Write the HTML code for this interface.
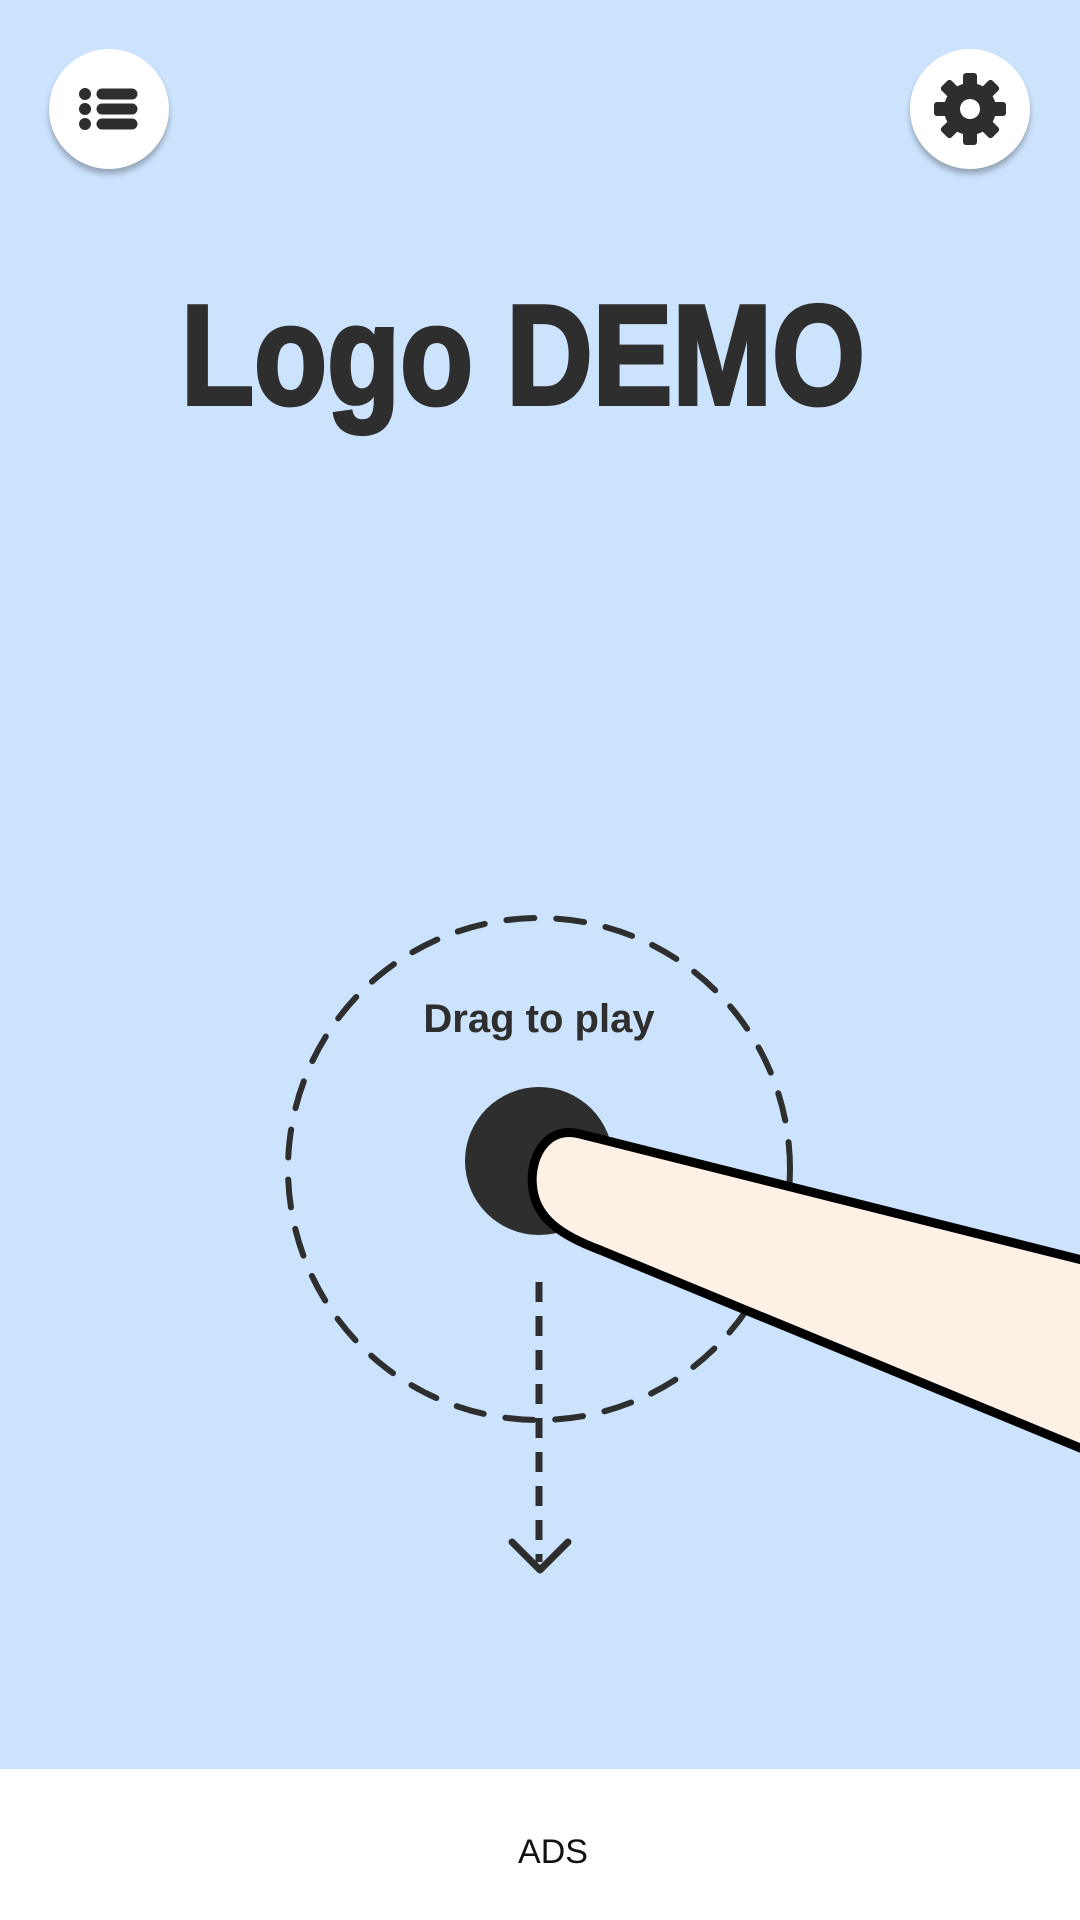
<!DOCTYPE html>
<html><head><meta charset="utf-8"><style>
html,body{margin:0;padding:0;width:1080px;height:1920px;overflow:hidden;background:#cce3fd;font-family:"Liberation Sans",sans-serif;}
.btn{position:absolute;width:120px;height:120px;border-radius:50%;background:#fff;box-shadow:0 5px 6px rgba(0,0,0,0.28);}
#ads{position:absolute;left:0;top:1769px;width:1080px;height:151px;background:#fff;}
#ads span{position:absolute;left:0;width:1106px;text-align:center;top:64px;font-size:34px;color:#111;}
</style></head><body>
<div class="btn" style="left:49px;top:49px;">
<svg width="120" height="120" viewBox="0 0 120 120">
<g fill="#2e2e2e"><circle cx="36" cy="45" r="6"/><circle cx="36" cy="60" r="6"/><circle cx="36" cy="75" r="6"/></g>
<g stroke="#2e2e2e" stroke-width="11" stroke-linecap="round"><line x1="53" y1="45" x2="83" y2="45"/><line x1="53" y1="60" x2="83" y2="60"/><line x1="53" y1="75" x2="83" y2="75"/></g>
</svg></div>
<div class="btn" style="left:910px;top:49px;">
<svg width="120" height="120" viewBox="0 0 120 120">
<g transform="translate(60,60)" fill="#2e2e2e">
<circle r="26"/>
<g id="t"><rect x="-7" y="-36" width="14" height="16" rx="3"/></g>
<use href="#t" transform="rotate(45)"/><use href="#t" transform="rotate(90)"/><use href="#t" transform="rotate(135)"/>
<use href="#t" transform="rotate(180)"/><use href="#t" transform="rotate(225)"/><use href="#t" transform="rotate(270)"/><use href="#t" transform="rotate(315)"/>
<circle r="10" fill="#fff"/>
</g></svg></div>
<svg width="1080" height="1920" style="position:absolute;left:0;top:0;">
<text x="181" y="404" font-size="142" font-weight="900" fill="#2e2e2e" textLength="684" lengthAdjust="spacingAndGlyphs" font-family="Liberation Sans, sans-serif" stroke="#2e2e2e" stroke-width="4">Logo DEMO</text>
<circle cx="539" cy="1169" r="251" fill="none" stroke="#2e2e2e" stroke-width="6" stroke-dasharray="28 22" stroke-linecap="round"/>
<text x="539" y="1032" font-size="40" font-weight="bold" text-anchor="middle" fill="#2e2e2e">Drag to play</text>
<circle cx="539" cy="1161" r="74" fill="#2e2e2e"/>
<line x1="539" y1="1282" x2="539" y2="1562" stroke="#2e2e2e" stroke-width="7" stroke-dasharray="20 14"/>
<polyline points="512,1542 540,1570 568,1542" fill="none" stroke="#2e2e2e" stroke-width="7" stroke-linecap="round" stroke-linejoin="round"/>
<path d="M1090,1262 L580,1134 C545,1125 528,1160 533,1190 C537,1218 560,1235 600,1250 L1090,1452 Z" fill="#fdf1e6" stroke="#000" stroke-width="9" stroke-linejoin="round"/>
</svg>
<div id="ads"><span>ADS</span></div>
</body></html>
